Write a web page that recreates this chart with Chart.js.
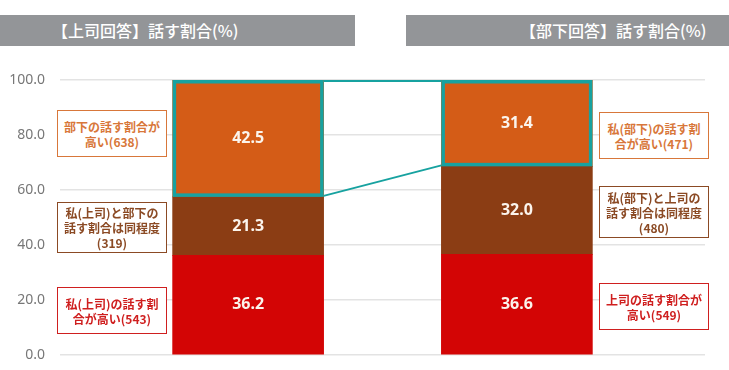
<!DOCTYPE html>
<html lang="ja">
<head>
<meta charset="utf-8">
<script src="https://cdn.jsdelivr.net/npm/chart.js@4.4.0/dist/chart.umd.min.js"></script>
<style>
  body { margin: 0; background: #fff; font-family: "Noto Sans CJK JP", "Noto Sans", sans-serif; }
  .wrap { position: relative; width: 729px; height: 370px; }
  .head { position: absolute; top: 15px; height: 31px; background: #939598; color: #fff;
          font-size: 16px; font-weight: 500; line-height: 31px; white-space: nowrap; }
  .note { position: absolute; width: 110px; box-sizing: border-box; border: 1.5px solid;
          background: #fff; font-size: 12px; font-weight: bold; line-height: 15px;
          text-align: center; display: flex; flex-direction: column; justify-content: center; }
</style>
</head>
<body>
<div class="wrap">
  <canvas id="chart" width="729" height="370"></canvas>
  <div class="head" style="left:0;width:355px;"><span style="padding-left:52px;">【上司回答】話す割合(%)</span></div>
  <div class="head" style="left:406px;width:323px;"><span style="padding-left:114px;">【部下回答】話す割合(%)</span></div>
  <div id="notes"></div>
</div>
<script>
// データ
var categories = ["上司回答", "部下回答"];
var selfHigh = [36.2, 36.6];   // 自分の話す割合が高い
var sameRate = [21.3, 32.0];   // 同程度
var otherHigh = [42.5, 31.4];  // 相手の話す割合が高い
var yTicks = [0, 20, 40, 60, 80, 100];

var leftNotes = [
    ["部下の話す割合が", "高い(638)"],
    ["私(上司)と部下の", "話す割合は同程度", "(319)"],
    ["私(上司)の話す割", "合が高い(543)"]
];
var rightNotes = [
    ["私(部下)の話す割", "合が高い(471)"],
    ["私(部下)と上司の", "話す割合は同程度", "(480)"],
    ["上司の話す割合が", "高い(549)"]
];

var colors = { red: "#d30505", brown: "#8b3d14", orange: "#d45c17", teal: "#17a2a0" };

// 注釈ボックス
var noteColors = ["#d8773a", "#8b4a24", "#cf1f1f"];
var notePos = [
    { left: 57, tops: [110, 202, 287], heights: [47, 51, 47] },
    { left: 599, tops: [112, 186, 283], heights: [47, 52, 47] }
];
[leftNotes, rightNotes].forEach(function (notes, side) {
    notes.forEach(function (lines, i) {
        var d = document.createElement("div");
        d.className = "note";
        d.style.left = notePos[side].left + "px";
        d.style.top = notePos[side].tops[i] + "px";
        d.style.height = notePos[side].heights[i] + "px";
        d.style.color = noteColors[i];
        d.style.borderColor = noteColors[i];
        d.innerHTML = lines.map(function (l) { return "<div>" + l + "</div>"; }).join("");
        document.getElementById("notes").appendChild(d);
    });
});

function toPoints(arr) {
    return arr.map(function (v, i) { return { x: i + 1, y: v }; });
}

// 数値ラベルと強調枠
var overlay = {
    id: "overlay",
    afterDatasetsDraw: function (chart) {
        var ctx = chart.ctx;
        ctx.save();
        ctx.fillStyle = "#fbf4ec";
        ctx.font = "bold 16px 'Noto Sans', sans-serif";
        ctx.textAlign = "center";
        ctx.textBaseline = "middle";
        chart.data.datasets.forEach(function (ds, di) {
            chart.getDatasetMeta(di).data.forEach(function (bar, i) {
                var p = bar.getProps(["x", "y", "base"], true);
                ctx.fillText(ds.data[i].y.toFixed(1), p.x, (p.y + p.base) / 2);
            });
        });

        var boxes = chart.getDatasetMeta(2).data.map(function (bar) {
            var p = bar.getProps(["x", "y", "base", "width"], true);
            return { l: p.x - p.width / 2, r: p.x + p.width / 2, t: p.y, b: p.base };
        });
        ctx.strokeStyle = colors.teal;
        ctx.lineWidth = 2;
        ctx.beginPath();
        ctx.moveTo(boxes[0].r, boxes[0].t + 1);
        ctx.lineTo(boxes[1].l, boxes[1].t + 1);
        ctx.moveTo(boxes[0].r, boxes[0].b - 1);
        ctx.lineTo(boxes[1].l, boxes[1].b - 1);
        ctx.stroke();
        ctx.lineWidth = 3.5;
        boxes.forEach(function (b) {
            ctx.strokeRect(b.l + 1.75, b.t + 1.75, b.r - b.l - 3.5, b.b - b.t - 3.5);
        });
        ctx.restore();
    }
};

new Chart("chart", {
    type: "bar",
    data: {
        labels: categories,
        datasets: [{
            label: "自分の話す割合が高い",
            data: toPoints(selfHigh),
            backgroundColor: colors.red
        },
        {
            label: "同程度",
            data: toPoints(sameRate),
            backgroundColor: colors.brown
        },
        {
            label: "相手の話す割合が高い",
            data: toPoints(otherHigh),
            backgroundColor: colors.orange
        }]
    },
    options: {
        responsive: false,
        animation: false,
        layout: { padding: { top: 80, bottom: 15, right: 24, left: 0 } },
        datasets: { bar: { barThickness: 151 } },
        plugins: {
            legend: { display: false },
            tooltip: { enabled: false }
        },
        scales: {
            x: {
                type: "linear",
                stacked: true,
                offset: false,
                min: 0.3,
                max: 2.7,
                display: false
            },
            y: {
                stacked: true,
                min: 0,
                max: 100,
                afterFit: function (scale) { scale.width = 60; },
                afterBuildTicks: function (scale) {
                    scale.ticks = yTicks.map(function (v) { return { value: v }; });
                },
                border: { display: false },
                // 目盛り線は透明にして、ラベルとグラフの間隔だけに使う
                grid: { color: "#e3e3e3", lineWidth: 1.5, drawTicks: true, tickLength: 15, tickColor: "rgba(0,0,0,0)" },
                ticks: {
                    padding: 0,
                    color: "#777",
                    font: { size: 14, family: "'Noto Sans', sans-serif" },
                    callback: function (v) { return v.toFixed(1); }
                }
            }
        }
    },
    plugins: [overlay]
});
</script>
</body>
</html>
